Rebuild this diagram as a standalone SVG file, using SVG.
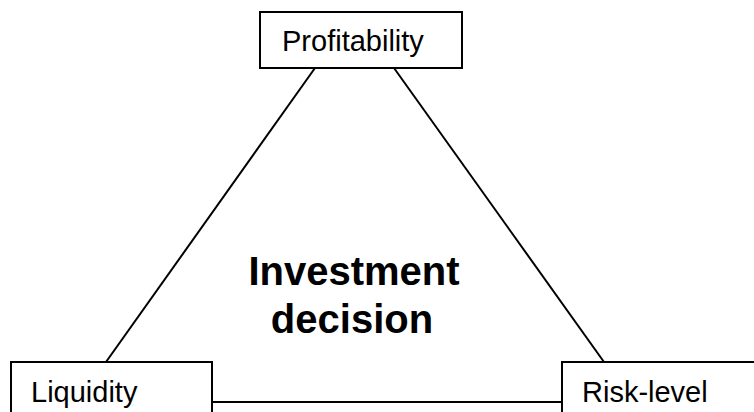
<svg xmlns="http://www.w3.org/2000/svg" width="754" height="412" viewBox="0 0 754 412">
  <style>
    .box { fill: #ffffff; stroke: #000000; stroke-width: 2; }
    .edge { stroke: #000000; stroke-width: 2; fill: none; }
    .label { font-family: "Liberation Sans", Arial, sans-serif; font-size: 29px; fill: #000000; }
    .title { font-family: "Liberation Sans", Arial, sans-serif; font-size: 40px; font-weight: bold; fill: #000000; text-anchor: middle; }
  </style>
  <rect width="754" height="412" fill="#ffffff"/>

  <g id="connectors">
    <line class="edge" x1="315" y1="68" x2="106" y2="362"/>
    <line class="edge" x1="394" y1="68" x2="604" y2="362"/>
    <line class="edge" x1="212" y1="402" x2="562" y2="402"/>
  </g>

  <g id="profitability">
    <rect class="box" x="260" y="12" width="202" height="56"/>
    <text class="label" x="282" y="51">Profitability</text>
  </g>

  <g id="liquidity">
    <rect class="box" x="11" y="362" width="201" height="70"/>
    <text class="label" x="31" y="401.5">Liquidity</text>
  </g>

  <g id="risk-level">
    <rect class="box" x="562" y="362" width="220" height="70"/>
    <text class="label" x="582" y="401.5">Risk-level</text>
  </g>

  <g id="investment-decision">
    <text class="title" x="354" y="285">Investment</text>
    <text class="title" x="352" y="333">decision</text>
  </g>
</svg>
